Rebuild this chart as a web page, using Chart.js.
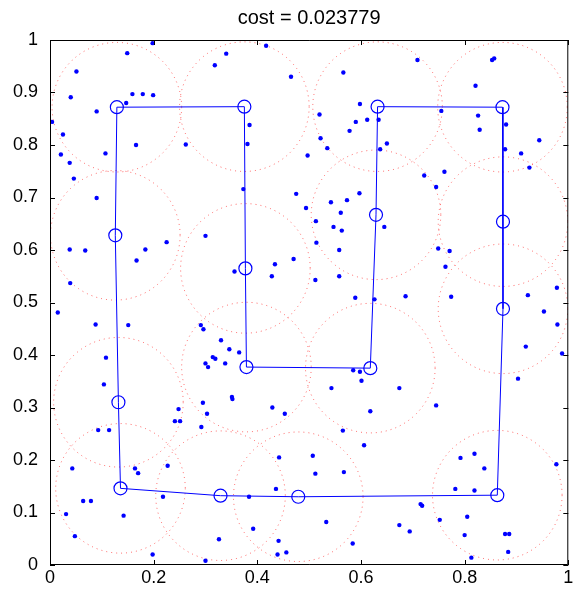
<!DOCTYPE html>
<html><head><meta charset="utf-8">
<script src="https://cdn.jsdelivr.net/npm/chart.js@4.4.1/dist/chart.umd.min.js"></script>
<style>html,body{margin:0;padding:0;background:#fff}#wrap{width:576px;height:598px}</style>
</head><body><div id="wrap"><canvas id="c" width="576" height="598"></canvas></div>
<script>
const titleText = 'cost = 0.023779';
// waypoints of the closed path (in visiting order)
const wayX = [0.129, 0.375, 0.377, 0.379, 0.618, 0.629, 0.632, 0.873, 0.874, 0.874, 0.863, 0.479, 0.329, 0.136, 0.132, 0.126];
const wayY = [0.872, 0.873, 0.565, 0.377, 0.375, 0.667, 0.873, 0.872, 0.654, 0.488, 0.133, 0.130, 0.132, 0.146, 0.310, 0.628];
const coverRadius = 0.125;
// scattered points
const dotX = [0.198,0.149,0.051,0.340,0.318,0.417,0.465,0.040,0.159,0.179,0.199,0.147,0.090,0.004,0.025,0.385,0.381,0.166,0.262,0.021,0.107,0.038,0.497,0.046,0.090,0.038,0.068,0.039,0.167,0.184,0.225,0.300,0.373,0.356,0.434,0.428,0.470,0.475,0.494,
0.709,0.853,0.857,0.566,0.821,0.598,0.520,0.612,0.590,0.634,0.578,0.522,0.535,0.650,0.637,0.755,0.826,0.829,0.880,0.878,0.944,0.909,0.925,0.542,0.573,0.597,0.561,0.513,0.547,0.563,0.514,0.558,0.645,0.558,0.512,0.722,0.761,0.745,0.749,0.771,0.763,0.978,0.922,0.589,0.626,0.686,0.774,
0.953,0.979,0.988,0.918,0.903,0.585,0.598,0.601,0.543,0.674,0.618,0.745,0.565,0.606,0.507,0.512,0.567,0.792,0.819,0.838,0.977,0.782,0.819,0.715,0.718,0.533,0.674,0.694,0.584,0.752,0.805,0.800,0.878,0.886,0.884,0.813,
0.015,0.088,0.151,0.108,0.104,0.093,0.114,0.043,0.064,0.079,0.031,0.048,0.142,0.164,0.170,0.227,0.218,0.198,0.291,0.296,0.330,0.346,0.365,0.314,0.319,0.338,0.300,0.305,0.351,0.352,0.295,0.303,0.248,0.241,0.251,0.292,0.429,0.453,0.442,0.436,0.384,0.392,0.326,0.441,0.439,0.456,0.300];
const dotY = [0.994,0.975,0.940,0.974,0.952,0.989,0.930,0.891,0.897,0.897,0.895,0.880,0.864,0.844,0.820,0.838,0.802,0.800,0.801,0.782,0.784,0.766,0.780,0.736,0.699,0.601,0.599,0.537,0.580,0.601,0.615,0.627,0.716,0.559,0.573,0.550,0.583,0.707,0.680,
0.962,0.962,0.965,0.938,0.913,0.878,0.858,0.848,0.844,0.848,0.827,0.813,0.794,0.803,0.792,0.865,0.856,0.829,0.839,0.792,0.809,0.784,0.757,0.691,0.695,0.708,0.671,0.655,0.644,0.637,0.614,0.600,0.644,0.550,0.543,0.742,0.749,0.720,0.603,0.598,0.568,0.528,0.514,0.509,0.506,0.512,0.511,
0.483,0.458,0.403,0.416,0.355,0.371,0.368,0.351,0.337,0.337,0.293,0.304,0.256,0.228,0.208,0.174,0.177,0.204,0.212,0.184,0.192,0.145,0.142,0.116,0.113,0.082,0.076,0.064,0.041,0.086,0.092,0.057,0.059,0.059,0.025,0.014,
0.481,0.458,0.457,0.395,0.344,0.257,0.257,0.184,0.122,0.122,0.097,0.055,0.094,0.184,0.175,0.189,0.130,0.020,0.457,0.449,0.428,0.411,0.405,0.396,0.393,0.384,0.384,0.377,0.320,0.316,0.309,0.288,0.297,0.274,0.274,0.263,0.300,0.288,0.205,0.145,0.130,0.069,0.049,0.046,0.020,0.024,0.008];
const xTicks = [0, 0.2, 0.4, 0.6, 0.8, 1];
const yTicks = [0, 0.1, 0.2, 0.3, 0.4, 0.5, 0.6, 0.7, 0.8, 0.9, 1];

const FONT = 'Liberation Sans, Arial, Helvetica, sans-serif';
const BLUE = '#0000ff';

const dots = dotX.map((v, i) => ({x: v, y: dotY[i]}));
const way = wayX.map((v, i) => ({x: v, y: wayY[i]}));
const pathPts = way.concat([way[0]]);

const coverage = {
  id: 'coverage',
  beforeDatasetsDraw(chart) {
    const {ctx, chartArea: a, scales: {x, y}} = chart;
    const r = x.getPixelForValue(coverRadius) - x.getPixelForValue(0);
    ctx.save();
    ctx.beginPath(); ctx.rect(a.left, a.top, a.right - a.left, a.bottom - a.top); ctx.clip();
    ctx.strokeStyle = 'rgba(255,0,0,0.6)';
    ctx.lineWidth = 1;
    ctx.setLineDash([1, 4]);
    wayX.forEach((v, i) => {
      ctx.beginPath();
      ctx.arc(x.getPixelForValue(v), y.getPixelForValue(wayY[i]), r, 0, Math.PI * 2);
      ctx.stroke();
    });
    ctx.restore();
  }
};

// centre the title over the plot area (as in the original figure)
const titleOverPlot = {
  id: 'titleOverPlot',
  afterLayout(chart) {
    const t = chart.titleBlock, a = chart.chartArea;
    if (t && a) { t.left = a.left; t.right = a.right; t.width = a.right - a.left; }
  }
};

const frame = {
  id: 'frame',
  afterDraw(chart) {
    const {ctx, chartArea: a, scales: {x, y}} = chart;
    const L = 5;
    ctx.save();
    ctx.strokeStyle = '#000';
    ctx.lineWidth = 1;
    ctx.beginPath();
    ctx.rect(a.left + 0.5, a.top + 0.5, a.right - a.left - 1, a.bottom - a.top - 1);
    xTicks.forEach(v => {
      const px = Math.round(x.getPixelForValue(v)) + 0.5;
      ctx.moveTo(px, a.bottom); ctx.lineTo(px, a.bottom - L);
      ctx.moveTo(px, a.top); ctx.lineTo(px, a.top + L);
    });
    yTicks.forEach(v => {
      const py = Math.round(y.getPixelForValue(v)) + 0.5;
      ctx.moveTo(a.left, py); ctx.lineTo(a.left + L, py);
      ctx.moveTo(a.right, py); ctx.lineTo(a.right - L, py);
    });
    ctx.stroke();
    ctx.restore();
  }
};

new Chart(document.getElementById('c'), {
  type: 'scatter',
  data: {
    datasets: [
      {label: 'points', data: dots, pointRadius: 2.2, pointHoverRadius: 2.2, pointBackgroundColor: BLUE, pointBorderWidth: 0, showLine: false, order: 3},
      {label: 'path', data: pathPts, showLine: true, borderColor: BLUE, borderWidth: 1, pointRadius: 0, fill: false, tension: 0, order: 2},
      {label: 'waypoints', data: way, showLine: false, pointRadius: 6.5, pointHoverRadius: 6.5, pointBackgroundColor: 'rgba(0,0,0,0)', pointBorderColor: BLUE, pointBorderWidth: 1.2, order: 1}
    ]
  },
  options: {
    responsive: false,
    devicePixelRatio: 1,
    animation: false,
    events: [],
    layout: {padding: {left: 0, right: 1, top: 0, bottom: 0}},
    plugins: {
      legend: {display: false},
      tooltip: {enabled: false},
      title: {display: true, text: titleText, color: '#000', font: {family: FONT, size: 20, weight: 'normal', lineHeight: 1.2}, padding: {top: 6, bottom: 10}}
    },
    scales: {
      x: {
        type: 'linear', min: 0, max: 1,
        afterBuildTicks: s => { s.ticks = xTicks.map(v => ({value: v})); },
        afterFit: s => { s.height = 33; },
        grid: {display: false, drawTicks: false},
        border: {display: false},
        ticks: {color: '#000', font: {family: FONT, size: 18}, padding: 2, maxRotation: 0, callback: v => String(v)}
      },
      y: {
        type: 'linear', min: 0, max: 1,
        afterBuildTicks: s => { s.ticks = yTicks.map(v => ({value: v})); },
        afterFit: s => { s.width = 50; },
        grid: {display: false, drawTicks: false},
        border: {display: false},
        ticks: {color: '#000', font: {family: FONT, size: 18}, padding: 12, callback: v => String(v)}
      }
    }
  },
  plugins: [coverage, titleOverPlot, frame]
});
</script></body></html>
